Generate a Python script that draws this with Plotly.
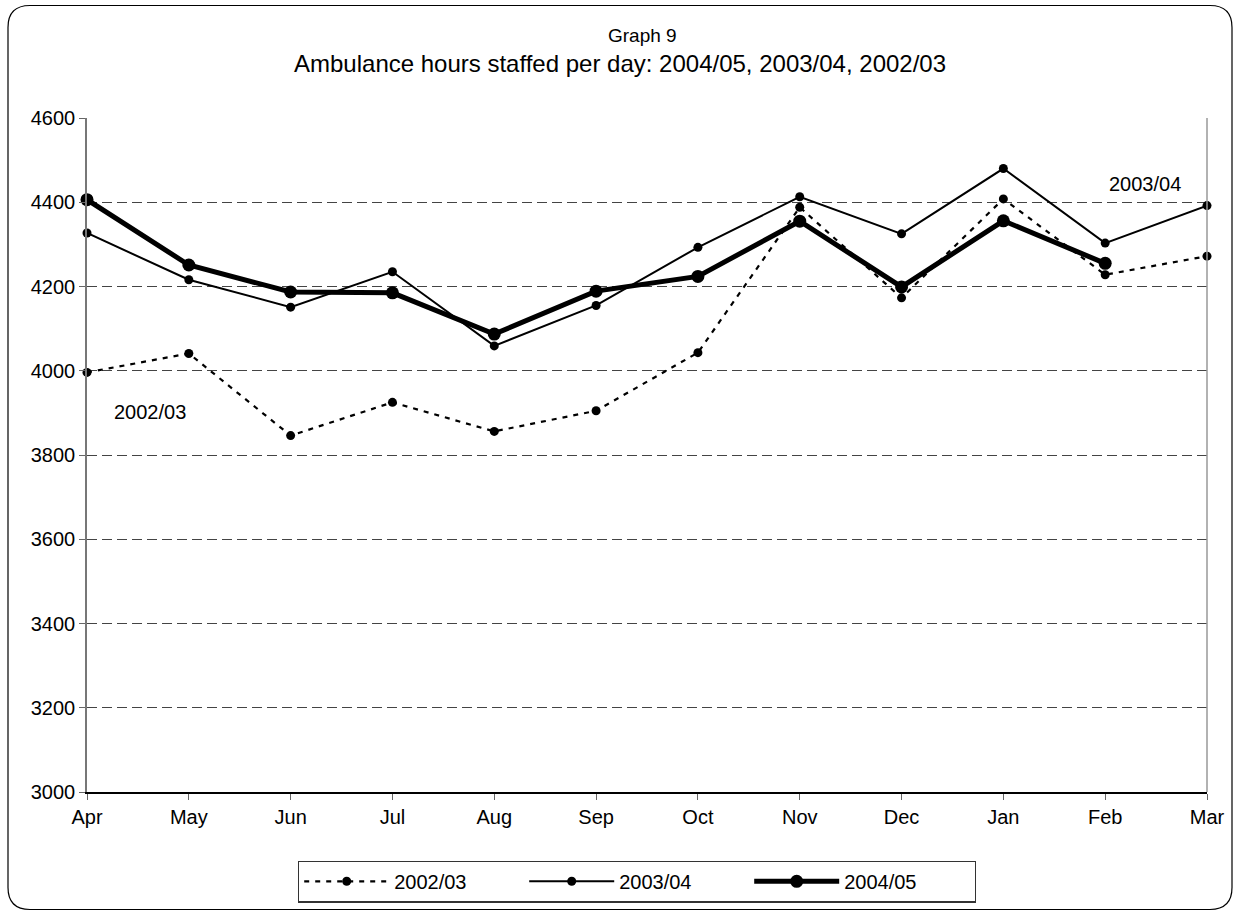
import plotly.graph_objects as go

months = ["Apr", "May", "Jun", "Jul", "Aug", "Sep", "Oct", "Nov", "Dec", "Jan", "Feb", "Mar"]
y_2002_03 = [3996, 4041, 3846, 3925, 3856, 3905, 4043, 4388, 4173, 4408, 4228, 4272]
y_2003_04 = [4327, 4216, 4151, 4235, 4059, 4155, 4293, 4413, 4325, 4480, 4303, 4392]
y_2004_05 = [4406, 4251, 4187, 4185, 4087, 4189, 4224, 4355, 4199, 4356, 4255, None]

W, H = 1236, 915
ML, MR, MT, MB = 87, 29, 118, 120
PW, PH = W - ML - MR, H - MT - MB

def px_x(p):
    return (p - ML) / PW

def px_y(p):
    return (H - MB - p) / PH

font = "Liberation Sans, Arial, sans-serif"

fig = go.Figure()
fig.add_trace(go.Scatter(x=months, y=y_2002_03, name="2002/03", mode="lines+markers",
                         line=dict(color="black", width=2.2, dash="5px,6px"),
                         marker=dict(color="black", size=9), cliponaxis=False))
fig.add_trace(go.Scatter(x=months, y=y_2003_04, name="2003/04", mode="lines+markers",
                         line=dict(color="black", width=2),
                         marker=dict(color="black", size=9), cliponaxis=False))
fig.add_trace(go.Scatter(x=months, y=y_2004_05, name="2004/05", mode="lines+markers",
                         line=dict(color="black", width=5),
                         marker=dict(color="black", size=13), cliponaxis=False))

# rounded outer border
x0, x1 = px_x(8), px_x(1232)
y0, y1 = px_y(913), px_y(5)
rx = 22 / PW
ry = 22 / PH
path = (f"M {x0+rx},{y1} L {x1-rx},{y1} Q {x1},{y1} {x1},{y1-ry} "
        f"L {x1},{y0+ry} Q {x1},{y0} {x1-rx},{y0} "
        f"L {x0+rx},{y0} Q {x0},{y0} {x0},{y0+ry} "
        f"L {x0},{y1-ry} Q {x0},{y1} {x0+rx},{y1} Z")

shapes = [
    dict(type="path", xref="paper", yref="paper", path=path,
         line=dict(color="black", width=1.2), layer="below"),
    dict(type="line", xref="paper", yref="paper", x0=1, x1=1, y0=0, y1=1,
         line=dict(color="#999999", width=1.5)),
]

annotations = [
    dict(text="Graph 9", xref="paper", yref="paper", x=px_x(642), y=px_y(35),
         xanchor="center", yanchor="middle", showarrow=False,
         font=dict(family=font, size=19, color="black")),
    dict(text="Ambulance hours staffed per day: 2004/05, 2003/04, 2002/03", xref="paper", yref="paper",
         x=px_x(620), y=px_y(63), xanchor="center", yanchor="middle", showarrow=False,
         font=dict(family=font, size=24, color="black")),
    dict(text="2003/04", xref="paper", yref="paper", x=px_x(1145), y=px_y(184),
         xanchor="center", yanchor="middle", showarrow=False,
         font=dict(family=font, size=20, color="black")),
    dict(text="2002/03", xref="paper", yref="paper", x=px_x(150), y=px_y(413),
         xanchor="center", yanchor="middle", showarrow=False,
         font=dict(family=font, size=20, color="black")),
]

fig.update_layout(
    width=W, height=H,
    margin=dict(l=ML, r=MR, t=MT, b=MB),
    paper_bgcolor="white", plot_bgcolor="white",
    font=dict(family=font, size=20, color="black"),
    showlegend=True,
    legend=dict(orientation="h", x=px_x(637), y=px_y(885), xanchor="center", yanchor="middle",
                bordercolor="#333333", borderwidth=1.2, bgcolor="white",
                font=dict(family=font, size=20), entrywidth=125, entrywidthmode="pixels",
                itemwidth=85),
    shapes=shapes,
    annotations=annotations,
)
fig.update_xaxes(type="category", range=[0, 11], showline=True, linecolor="black", linewidth=1.5,
                 ticks="outside", tickcolor="#666666", ticklen=6, showgrid=False, zeroline=False,
                 tickfont=dict(family=font, size=20))
fig.update_yaxes(range=[3000, 4600], dtick=200, showline=True, linecolor="#777777", linewidth=1.5,
                 ticks="outside", tickcolor="#666666", ticklen=6, showgrid=True, gridcolor="#444444",
                 griddash="10px,5px", gridwidth=1, zeroline=False,
                 tickfont=dict(family=font, size=20))

fig.write_html("out.html", config={"displayModeBar": False},
               post_script="document.body.style.margin='0';document.body.style.overflow='hidden';")
